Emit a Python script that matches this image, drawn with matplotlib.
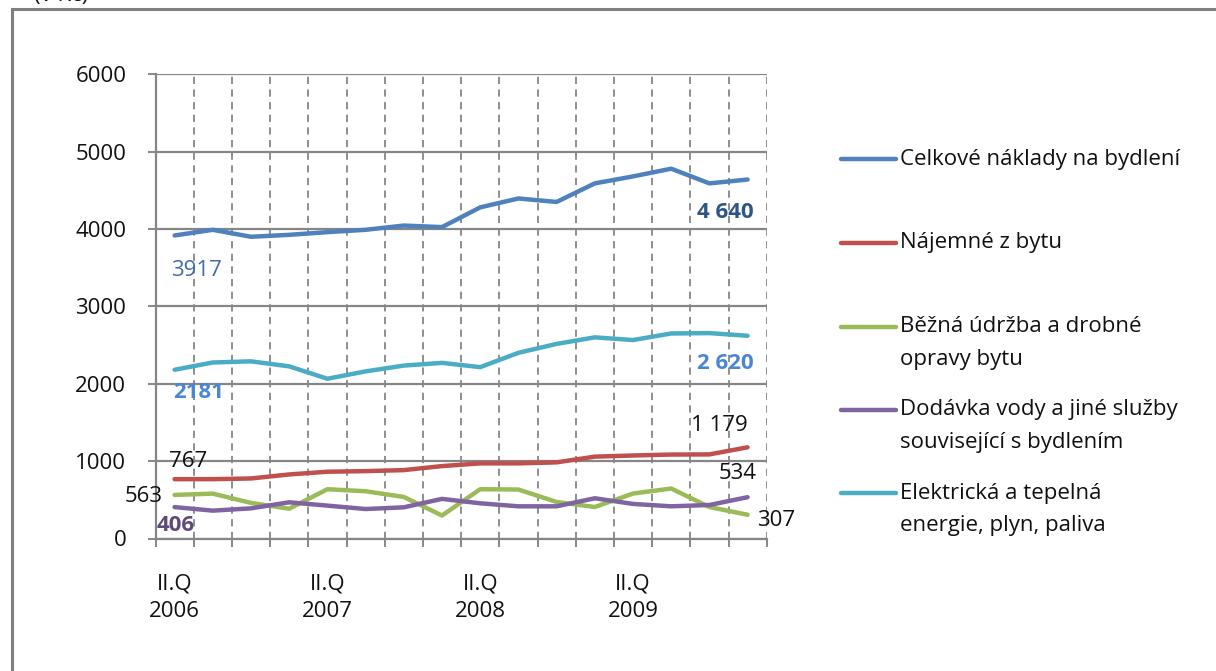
import matplotlib
matplotlib.use("Agg")
import matplotlib.pyplot as plt
from matplotlib.lines import Line2D

plt.rcParams['font.family'] = ['Open Sans', 'DejaVu Sans']

# ---- data -------------------------------------------------------------
quarters = [
    "II.Q\n2006", "III.Q\n2006", "IV.Q\n2006", "I.Q\n2007",
    "II.Q\n2007", "III.Q\n2007", "IV.Q\n2007", "I.Q\n2008",
    "II.Q\n2008", "III.Q\n2008", "IV.Q\n2008", "I.Q\n2009",
    "II.Q\n2009", "III.Q\n2009", "IV.Q\n2009", "I.Q\n2010",
]

celkove = [3917, 3990, 3900, 3925, 3960, 3990, 4045, 4025,
           4280, 4395, 4350, 4590, 4680, 4780, 4590, 4640]
najemne = [767, 767, 776, 828, 863, 871, 884, 936,
           971, 971, 984, 1058, 1073, 1085, 1087, 1179]
udrzba = [563, 580, 460, 385, 637, 611, 537, 297,
          637, 633, 472, 407, 581, 646, 407, 307]
voda = [406, 360, 390, 468, 425, 381, 403, 512,
        455, 416, 416, 520, 447, 416, 433, 534]
energie = [2181, 2275, 2290, 2225, 2065, 2160, 2235, 2270,
           2215, 2400, 2515, 2600, 2565, 2650, 2655, 2620]

series_names = [
    "Celkové náklady na bydlení",
    "Nájemné z bytu",
    "Běžná údržba a drobné\nopravy bytu",
    "Dodávka vody a jiné služby\nsouvisející s bydlením",
    "Elektrická a tepelná\nenergie, plyn, paliva",
]
series_values = [celkove, najemne, udrzba, voda, energie]
series_colors = ["#4F81BD", "#C0504D", "#9BBB59", "#8064A2", "#4BACC6"]

y_ticks = [0, 1000, 2000, 3000, 4000, 5000, 6000]

# ---- figure -----------------------------------------------------------
W, H = 1216, 671
fig = plt.figure(figsize=(W / 100, H / 100), dpi=100)
fig.patch.set_facecolor("white")

def fx(px):
    return px / W

def fy(py):
    return 1 - py / H

ax = fig.add_axes([fx(155.5), fy(538.5), fx(766.7) - fx(155.5), fy(74.3) - fy(538.5)])

GRID = "#868686"
FS = 16

n = len(quarters)
xs = list(range(n))
for name, vals, col, z in zip(series_names, series_values, series_colors, range(5)):
    ax.plot(xs, vals, color=col, lw=3.2, solid_capstyle="round",
            solid_joinstyle="round", zorder=3 + z)

ax.set_xlim(-0.5, n - 0.5)
ax.set_ylim(0, 6000)

# horizontal gridlines (solid) and vertical category gridlines (dashed)
for y in y_ticks:
    ax.axhline(y, color=GRID, lw=1.6, zorder=1)
for k in range(1, n + 1):
    ax.axvline(k - 0.5, color=GRID, lw=1.3, ls=(0, (4, 3)), zorder=1)

for side in ["top", "right"]:
    ax.spines[side].set_visible(False)
for side in ["left", "bottom"]:
    ax.spines[side].set_color(GRID)
    ax.spines[side].set_linewidth(1.6)

ax.set_yticks(y_ticks)
ax.set_yticklabels([str(v) for v in y_ticks])
ax.tick_params(axis="y", length=6, width=1.4, color=GRID, pad=15,
               labelsize=FS, labelcolor="#111111")

# category boundary tick marks, labels every fourth quarter
ax.set_xticks([k - 0.5 for k in range(n + 1)])
ax.set_xticklabels([])
ax.tick_params(axis="x", which="major", length=6, width=1.4, color=GRID)
ax.set_xticks(xs[::4], minor=True)
ax.set_xticklabels(quarters[::4], minor=True, linespacing=1.45)
ax.tick_params(axis="x", which="minor", length=0, pad=25,
               labelsize=FS, labelcolor="#111111")


def fmt(v, sep):
    return f"{v:,}".replace(",", " ") if sep else str(v)


def label(idx, vals, dx, dy, color, bold=False, ha="center", sep=True):
    ax.annotate(fmt(vals[idx], sep), (idx, vals[idx]), xytext=(dx, dy),
                textcoords="offset pixels", ha=ha, va="center",
                fontsize=FS, color=color,
                fontweight="bold" if bold else "normal", zorder=10)


last = n - 1
label(0, celkove, 22, -35, "#416DA8", sep=False)
label(last, celkove, -22, -33, "#2F5587", bold=True)
label(0, energie, 24, -23, "#4A86D4", bold=True, sep=False)
label(last, energie, -22, -28, "#4A86D4", bold=True)
label(0, najemne, 14, 18, "#111111")
label(last, najemne, -28, 22, "#111111")
label(0, udrzba, -12, -2, "#111111", ha="right")
label(last, voda, -10, 24, "#111111")
label(last, udrzba, 29, -6, "#111111")
label(0, voda, 1, -18, "#604A7B", bold=True)

# ---- legend -----------------------------------------------------------
legend_rows = [159.3, 242.7, 326.7, 410.0, 493.3]
line_gap = 32.6
for name, col, y0 in zip(series_names, series_colors, legend_rows):
    fig.add_artist(Line2D([fx(841), fx(896)], [fy(y0), fy(y0)],
                          color=col, lw=3.2, solid_capstyle="round"))
    for j, part in enumerate(name.split("\n")):
        fig.text(fx(900), fy(y0 + j * line_gap), part, fontsize=FS,
                 color="#111111", ha="left", va="center")

# ---- frame and heading --------------------------------------------------
frame = "#808080"
fig.add_artist(Line2D([fx(11.5), fx(11.5)], [fy(8.5), fy(H + 5)], color=frame, lw=2.2))
fig.add_artist(Line2D([fx(11.5), fx(W + 5)], [fy(8.5), fy(8.5)], color=frame, lw=2.2))
fig.text(fx(88), fy(1), "(v Kč)", fontsize=FS, color="#111111",
         ha="right", va="baseline")

fig.savefig("out.png", dpi=100, facecolor="white")
